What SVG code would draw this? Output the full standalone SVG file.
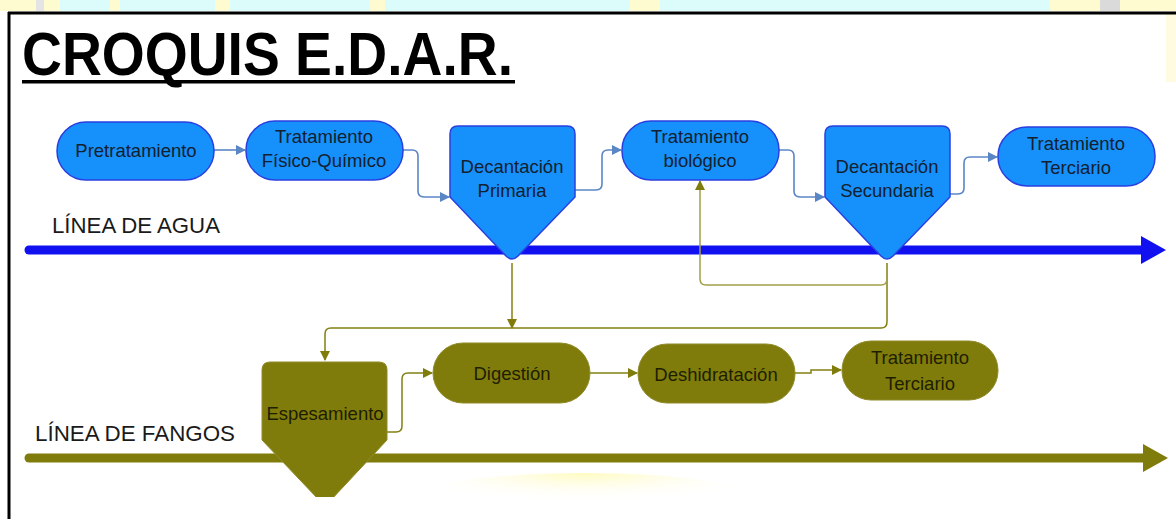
<svg xmlns="http://www.w3.org/2000/svg" width="1176" height="519" viewBox="0 0 1176 519">
<defs>
<style>
.bn{fill:#1691fb;stroke:#2a3fe0;stroke-width:1.5}
.on{fill:#807c0b;stroke:#8f8b2a;stroke-width:1}
.bt{font-family:"Liberation Sans",Arial,sans-serif;font-size:18.5px;fill:#14202e;text-anchor:middle}
.ot{font-family:"Liberation Sans",Arial,sans-serif;font-size:18.5px;fill:#1e1e00;text-anchor:middle}
.lbl{font-family:"Liberation Sans",Arial,sans-serif;font-size:22px;fill:#1a1a1a}
.bc{fill:none;stroke:#5b86c6;stroke-width:1.6}
.oc{fill:none;stroke:#838012;stroke-width:1.5}
.oc2{fill:none;stroke:#a3a04a;stroke-width:1.5}
</style>
<marker id="ab" viewBox="0 0 10 10" refX="9" refY="5" markerWidth="10" markerHeight="10" markerUnits="userSpaceOnUse" orient="auto"><path d="M0,0 L10,5 L0,10 Z" fill="#5b86c6"/></marker>
<marker id="ao" viewBox="0 0 10 10" refX="9" refY="5" markerWidth="10" markerHeight="10" markerUnits="userSpaceOnUse" orient="auto"><path d="M0,0 L10,5 L0,10 Z" fill="#807c0b"/></marker>
<radialGradient id="wy" cx="0.5" cy="0" r="0.6"><stop offset="0" stop-color="#fffbc0"/><stop offset="1" stop-color="#ffffff" stop-opacity="0"/></radialGradient>
<clipPath id="cut"><rect x="0" y="0" width="1176" height="497"/></clipPath>
</defs>
<rect width="1176" height="519" fill="#ffffff"/>
<g id="watermark">
<rect x="0" y="0" width="1176" height="11" fill="#fefbd0"/>
<rect x="60" y="0" width="50" height="11" fill="#dcfbfb"/>
<rect x="120" y="0" width="95" height="11" fill="#dcfbfb"/>
<rect x="230" y="0" width="140" height="11" fill="#dcfbfb"/>
<rect x="385" y="0" width="245" height="11" fill="#dcfbfb"/>
<rect x="660" y="0" width="390" height="11" fill="#dcfbfb"/>
<rect x="36" y="0" width="8" height="11" fill="#e4e4e4"/>
<rect x="1100" y="0" width="20" height="11" fill="#dadada"/>
<rect x="1166" y="12" width="10" height="70" fill="#fffbe0"/>
<ellipse cx="585" cy="497" rx="165" ry="24" fill="url(#wy)"/>
</g>
<g id="frame">
<line x1="8" y1="13" x2="1176" y2="13" stroke="#000" stroke-width="3"/>
<line x1="9" y1="12" x2="9" y2="519" stroke="#000" stroke-width="3"/>
</g>
<g id="title">
<text x="22" y="75" font-family="'Liberation Sans',Arial,sans-serif" font-weight="bold" font-size="62" textLength="491" lengthAdjust="spacingAndGlyphs" fill="#000">CROQUIS E.D.A.R.</text>
<rect x="22" y="80" width="493" height="3.5" fill="#000"/>
</g>
<g id="linea-agua">
<line x1="29" y1="250" x2="1142" y2="250" stroke="#1010f0" stroke-width="9" stroke-linecap="round"/>
<polygon points="1141,236 1166,250 1141,264" fill="#1010f0"/>
<text class="lbl" x="52" y="233" textLength="168" lengthAdjust="spacingAndGlyphs">LÍNEA DE AGUA</text>
</g>
<g id="linea-fangos">
<line x1="29" y1="458" x2="1144" y2="458" stroke="#807c0b" stroke-width="9" stroke-linecap="round"/>
<polygon points="1143,444 1168,458 1143,472" fill="#807c0b"/>
<text class="lbl" x="35" y="441" textLength="200" lengthAdjust="spacingAndGlyphs">LÍNEA DE FANGOS</text>
</g>
<g id="connectors">
<path class="bc" d="M214,150 H245" marker-end="url(#ab)"/>
<path class="bc" d="M403,150 H412 Q418,150 418,156 V191 Q418,197 424,197 H449" marker-end="url(#ab)"/>
<path class="bc" d="M575,190 H596 Q602,190 602,184 V156 Q602,150 608,150 H621" marker-end="url(#ab)"/>
<path class="bc" d="M779,150 H788 Q794,150 794,156 V191 Q794,197 800,197 H824" marker-end="url(#ab)"/>
<path class="bc" d="M950,194 H958 Q964,194 964,188 V163 Q964,157 970,157 H997" marker-end="url(#ab)"/>
<path class="oc" d="M512,263 V328" marker-end="url(#ao)"/>
<path class="oc" d="M887,263 V322 Q887,328 881,328 H331 Q325,328 325,334 V360" marker-end="url(#ao)"/>
<path class="oc2" d="M887,263 V279 Q887,285 881,285 H706 Q700,285 700,279 V181" marker-end="url(#ao)"/>
<path class="oc" d="M387,432 H396 Q402,432 402,426 V379 Q402,373 408,373 H432" marker-end="url(#ao)"/>
<path class="oc" d="M590,373 H637" marker-end="url(#ao)"/>
<path class="oc" d="M795,373 H811 V370 H841" marker-end="url(#ao)"/>
</g>
<g id="pretratamiento">
<rect class="bn" x="57" y="122" width="157" height="58" rx="29"/>
<text class="bt" x="136" y="157">Pretratamiento</text>
</g>
<g id="fisico-quimico">
<rect class="bn" x="246" y="121" width="157" height="59" rx="29"/>
<text class="bt" x="324" y="143">Tratamiento</text>
<text class="bt" x="324" y="167">Físico-Químico</text>
</g>
<g id="decantacion-primaria">
<path class="bn" d="M458,126 H567 Q575,126 575,134 V197 L518,256 Q512,262 506,256 L450,197 V134 Q450,126 458,126 Z"/>
<text class="bt" x="512" y="173">Decantación</text>
<text class="bt" x="512" y="197">Primaria</text>
</g>
<g id="biologico">
<rect class="bn" x="622" y="121" width="157" height="59" rx="29"/>
<text class="bt" x="700" y="143">Tratamiento</text>
<text class="bt" x="700" y="167">biológico</text>
</g>
<g id="decantacion-secundaria">
<path class="bn" d="M833,126 H942 Q950,126 950,134 V197 L893,256 Q887,262 881,256 L825,197 V134 Q825,126 833,126 Z"/>
<text class="bt" x="887" y="173">Decantación</text>
<text class="bt" x="887" y="197">Secundaria</text>
</g>
<g id="terciario-agua">
<rect class="bn" x="998" y="127" width="157" height="59" rx="29"/>
<text class="bt" x="1076" y="150">Tratamiento</text>
<text class="bt" x="1076" y="174">Terciario</text>
</g>
<g id="espesamiento">
<path class="on" clip-path="url(#cut)" d="M270,362 H379 Q387,362 387,370 V440 L331,500 Q325,506 319,500 L262,440 V370 Q262,362 270,362 Z"/>
<text class="ot" x="325" y="420">Espesamiento</text>
</g>
<g id="digestion">
<rect class="on" x="433" y="343" width="157" height="60" rx="30"/>
<text class="ot" x="512" y="380">Digestión</text>
</g>
<g id="deshidratacion">
<rect class="on" x="638" y="344" width="157" height="59" rx="29"/>
<text class="ot" x="716" y="381">Deshidratación</text>
</g>
<g id="terciario-fangos">
<rect class="on" x="842" y="341" width="156" height="59" rx="29"/>
<text class="ot" x="920" y="364">Tratamiento</text>
<text class="ot" x="920" y="390">Terciario</text>
</g>
</svg>
